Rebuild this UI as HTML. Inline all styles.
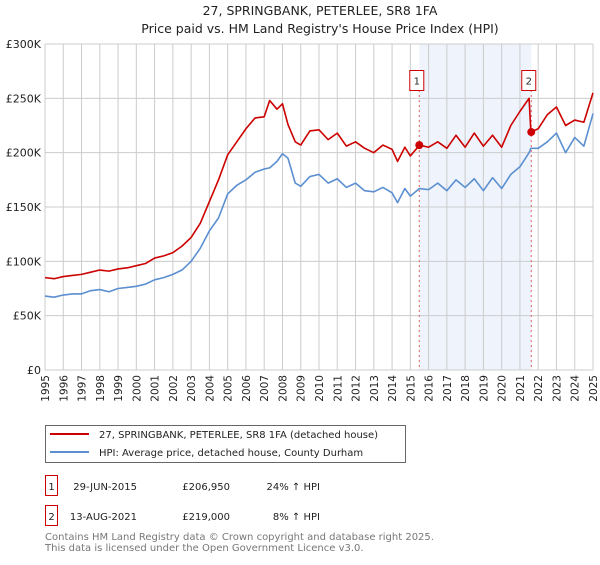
<!DOCTYPE html>
<html><head><meta charset="utf-8"><style>
body{margin:0;background:#fff;font-family:"Liberation Sans","DejaVu Sans",sans-serif;}
svg text{font-family:"DejaVu Sans","Liberation Sans",sans-serif;}
</style></head><body>
<svg id="c" width="600" height="560" xmlns="http://www.w3.org/2000/svg">
<text x="320" y="15" text-anchor="middle" font-size="12.5" fill="#222">27, SPRINGBANK, PETERLEE, SR8 1FA</text>
<text x="320" y="33" text-anchor="middle" font-size="12.5" fill="#222">Price paid vs. HM Land Registry's House Price Index (HPI)</text>
<g id="grid"></g><g id="marks"></g><g id="axes"></g>
<g>
<rect x="45.5" y="425.5" width="360" height="37" fill="#fff" stroke="#666"/>
<line x1="50" y1="434" x2="89" y2="434" stroke="#cc0000" stroke-width="2"/>
<text x="99" y="438" font-size="10" fill="#222">27, SPRINGBANK, PETERLEE, SR8 1FA (detached house)</text>
<line x1="50" y1="452" x2="89" y2="452" stroke="#5b8fd0" stroke-width="2"/>
<text x="99" y="456" font-size="10" fill="#222">HPI: Average price, detached house, County Durham</text>
</g>
<g>
<rect x="45.5" y="475.5" width="12" height="20" fill="#fff" stroke="#cc0000"/>
<text x="51.5" y="490" text-anchor="middle" font-size="10" fill="#222">1</text>
<text x="137" y="490" text-anchor="end" font-size="10" fill="#222">29-JUN-2015</text>
<text x="230" y="490" text-anchor="end" font-size="10" fill="#222">£206,950</text>
<text x="320" y="490" text-anchor="end" font-size="10" fill="#222">24% ↑ HPI</text>
</g>
<g>
<rect x="45.5" y="505.5" width="12" height="20" fill="#fff" stroke="#cc0000"/>
<text x="51.5" y="520" text-anchor="middle" font-size="10" fill="#222">2</text>
<text x="137" y="520" text-anchor="end" font-size="10" fill="#222">13-AUG-2021</text>
<text x="230" y="520" text-anchor="end" font-size="10" fill="#222">£219,000</text>
<text x="320" y="520" text-anchor="end" font-size="10" fill="#222">8% ↑ HPI</text>
</g>
<text x="45" y="540" font-size="10" fill="#777">Contains HM Land Registry data © Crown copyright and database right 2025.</text>
<text x="45" y="551" font-size="10" fill="#777">This data is licensed under the Open Government Licence v3.0.</text>
</svg>
<script>
const yTicks=[0,50000,100000,150000,200000,250000,300000];
const yTickLabels=["£0","£50K","£100K","£150K","£200K","£250K","£300K"];
const years=[1995,1996,1997,1998,1999,2000,2001,2002,2003,2004,2005,2006,2007,2008,2009,2010,2011,2012,2013,2014,2015,2016,2017,2018,2019,2020,2021,2022,2023,2024,2025];
const hpiDates=[1995,1995.5,1996,1996.5,1997,1997.5,1998,1998.5,1999,1999.5,2000,2000.5,2001,2001.5,2002,2002.5,2003,2003.5,2004,2004.5,2005,2005.5,2006,2006.5,2007,2007.3,2007.7,2008,2008.3,2008.7,2009,2009.5,2010,2010.5,2011,2011.5,2012,2012.5,2013,2013.5,2014,2014.3,2014.7,2015,2015.5,2016,2016.5,2017,2017.5,2018,2018.5,2019,2019.5,2020,2020.5,2021,2021.5,2021.6,2022,2022.5,2023,2023.5,2024,2024.5,2025];
const hpiValues=[68000,67000,69000,70000,70000,73000,74000,72000,75000,76000,77000,79000,83000,85000,88000,92000,100000,112000,128000,140000,162000,170000,175000,182000,185000,186000,192000,199000,195000,172000,169000,178000,180000,172000,176000,168000,172000,165000,164000,168000,163000,154000,167000,160000,167000,166000,172000,165000,175000,168000,176000,165000,177000,167000,180000,187000,200000,204000,204000,210000,218000,200000,214000,206000,236000];
const propDates=hpiDates;
const propValues=[85000,84000,86000,87000,88000,90000,92000,91000,93000,94000,96000,98000,103000,105000,108000,114000,122000,135000,155000,175000,198000,210000,222000,232000,233000,248000,240000,245000,226000,210000,207000,220000,221000,212000,218000,206000,210000,204000,200000,207000,203000,192000,205000,197000,206950,205000,210000,204000,216000,205000,218000,206000,216000,205000,225000,238000,250000,219000,222000,235000,242000,225000,230000,228000,255000];
const saleDates=[2015.49,2021.62];
const saleValues=[206950,219000];
const saleLabels=["1","2"];
const NS="http://www.w3.org/2000/svg";
const x0=45,x1=593,y0=370,y1=44;
const X=t=>x0+(t-1995)/(2025-1995)*(x1-x0);
const Y=v=>y0-v/300000*(y0-y1);
function mk(p,tag,a){const e=document.createElementNS(NS,tag);for(const k in a)e.setAttribute(k,a[k]);p.appendChild(e);return e;}
const grid=document.getElementById('grid'),marks=document.getElementById('marks'),axes=document.getElementById('axes');
const sh=mk(grid,'rect',{x:X(saleDates[0]),y:y1,width:X(saleDates[1])-X(saleDates[0]),height:y0-y1,fill:'#eef3fc'});


years.forEach(yr=>{const l=mk(grid,'line',{x1:X(yr),x2:X(yr),y1:y1,y2:y0,stroke:'#cccccc','stroke-width':1});


const t=mk(axes,'text',{transform:`translate(${X(yr)+4},${y0+5}) rotate(-90)`,'text-anchor':'end','font-size':10.5,fill:'#222'});t.textContent=yr;

});
yTicks.forEach((v,i)=>{const l=mk(grid,'line',{x1:x0,x2:x1,y1:Y(v),y2:Y(v),stroke:'#cccccc','stroke-width':1});


const t=mk(axes,'text',{x:x0-4,y:Y(v)+4,'text-anchor':'end','font-size':11,fill:'#222'});t.textContent=yTickLabels[i];

});
saleDates.forEach((d,i)=>{const l=mk(grid,'line',{x1:X(d),x2:X(d),y1:90,y2:y0,stroke:'#e06060','stroke-dasharray':'2,3','stroke-width':1});


const r=mk(axes,'rect',{x:X(d)-9.5,y:70.5,width:14,height:20,fill:'#fff',stroke:'#cc0000'});


const t=mk(axes,'text',{x:X(d)-2.5,y:84.5,'text-anchor':'middle','font-size':10,fill:'#222'});t.textContent=saleLabels[i];

});
function line(ds,vs,col,name){const p=mk(marks,'polyline',{points:ds.map((d,i)=>X(d)+','+Y(vs[i])).join(' '),fill:'none',stroke:col,'stroke-width':1.6,'stroke-linejoin':'round'});

}
line(hpiDates,hpiValues,'#5b8fd0','hpi-line');
line(propDates,propValues,'#cc0000','property-line');
saleDates.forEach((d,i)=>{const c=mk(marks,'circle',{cx:X(d),cy:Y(saleValues[i]),r:4,fill:'#cc0000'});

});
</script>
</body></html>
